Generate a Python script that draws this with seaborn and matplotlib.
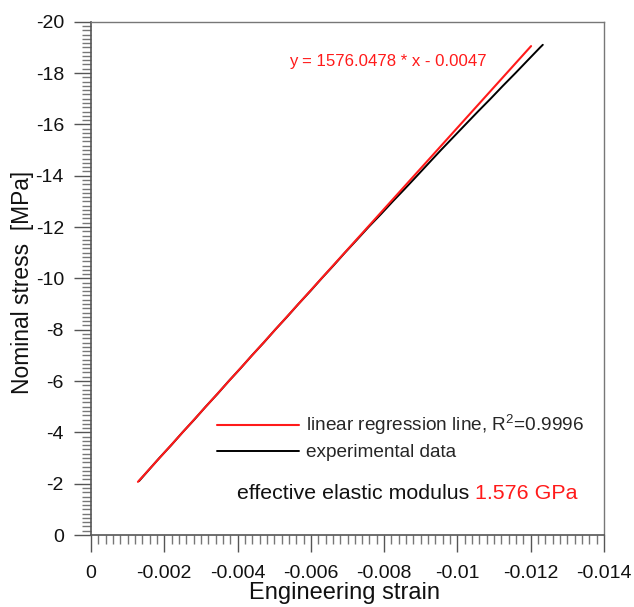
import matplotlib
matplotlib.use("Agg")
import matplotlib.pyplot as plt
import seaborn as sns
import numpy as np
import pandas as pd
from matplotlib.ticker import FixedLocator, FixedFormatter, MultipleLocator

# ---- data ----
reg_strain = [-0.00128, -0.01201]
reg_stress = [-2.07, -19.05]

exp_stress = [-2.1, -2.5, -3.0, -3.5, -4.0, -4.5, -5.0, -5.5, -6.0, -6.5,
              -7.0, -7.5, -8.0, -8.5, -9.0, -9.5, -10.0, -10.5, -11.0, -11.5,
              -12.0, -12.5, -13.0, -13.5, -14.0, -14.5, -15.0, -15.5, -16.0, -16.5,
              -17.0, -17.5, -18.0, -18.5, -19.0, -19.1]
exp_strain = [-0.001310, -0.001556, -0.001865, -0.002190, -0.002498, -0.002822,
              -0.003130, -0.003454, -0.003761, -0.004085, -0.004393, -0.004718,
              -0.005026, -0.005350, -0.005660, -0.005984, -0.006295, -0.006618,
              -0.006930, -0.007255, -0.007575, -0.007912, -0.008237, -0.008572,
              -0.008900, -0.009225, -0.009551, -0.009887, -0.010223, -0.010560,
              -0.010905, -0.011240, -0.011585, -0.011921, -0.012259, -0.012330]

x_ticks = [0, -0.002, -0.004, -0.006, -0.008, -0.010, -0.012, -0.014]
x_tick_labels = ["0", "-0.002", "-0.004", "-0.006", "-0.008", "-0.01", "-0.012", "-0.014"]
y_ticks = [0, -2, -4, -6, -8, -10, -12, -14, -16, -18, -20]
y_tick_labels = ["0", "-2", "-4", "-6", "-8", "-10", "-12", "-14", "-16", "-18", "-20"]

x_label = "Engineering strain"
y_label = "Nominal stress  [MPa]"
reg_label = "linear regression line, R$^{2}$=0.9996"
exp_label = "experimental data"
equation_text = "y = 1576.0478 * x - 0.0047"
modulus_text = "effective elastic modulus "
modulus_value = "1.576 GPa"

# ---- style ----
sns.set_theme(style="ticks")
plt.rcParams["font.family"] = ["Liberation Sans", "DejaVu Sans"]
plt.rcParams["mathtext.fontset"] = "custom"
plt.rcParams["mathtext.rm"] = "Liberation Sans"
plt.rcParams["mathtext.it"] = "Liberation Sans"
plt.rcParams["axes.unicode_minus"] = False

fig = plt.figure(figsize=(6.34, 6.07), dpi=100)
ax = fig.add_axes([91 / 634, 72 / 607, 513 / 634, 513.3 / 607])

exp_df = pd.DataFrame({"strain": exp_strain, "stress": exp_stress})
reg_df = pd.DataFrame({"strain": reg_strain, "stress": reg_stress})

sns.lineplot(data=exp_df, x="strain", y="stress", sort=False, color="black",
             lw=1.4, ax=ax, label=exp_label)
sns.lineplot(data=reg_df, x="strain", y="stress", sort=False, color="#ff1a1a",
             lw=1.5, ax=ax, label=reg_label)

ax.set_xlim(0, -0.014)
ax.set_ylim(0, -20)

ax.xaxis.set_major_locator(FixedLocator(x_ticks))
ax.xaxis.set_major_formatter(FixedFormatter(x_tick_labels))
ax.yaxis.set_major_locator(FixedLocator(y_ticks))
ax.yaxis.set_major_formatter(FixedFormatter(y_tick_labels))
ax.xaxis.set_minor_locator(MultipleLocator(0.0002))
ax.yaxis.set_minor_locator(MultipleLocator(2 / 12))

spine_c = "#555555"
for s in ["left", "bottom"]:
    ax.spines[s].set_color(spine_c)
    ax.spines[s].set_linewidth(1.2)
for s in ["top", "right"]:
    ax.spines[s].set_color("#777777")
    ax.spines[s].set_linewidth(1.0)
    ax.spines[s].set_visible(True)

ax.tick_params(axis="both", which="major", direction="out", length=12.5, width=1.0,
               color=spine_c, labelsize=14, labelcolor="#111111")
ax.tick_params(axis="both", which="minor", direction="out", length=6.5, width=1.0,
               color="#777777")
ax.tick_params(axis="y", which="major", pad=7)
ax.tick_params(axis="x", which="major", pad=9)

ax.set_xlabel(x_label, fontsize=17, color="#111111")
ax.set_ylabel(y_label, fontsize=16.4, color="#111111")
ax.xaxis.set_label_coords(0.494, -0.0925)
ax.yaxis.set_label_coords(-0.112, 0.492)

handles, labels = ax.get_legend_handles_labels()
ax.legend(handles[::-1], labels[::-1], loc="upper left",
          bbox_to_anchor=(0.245, 0.237), frameon=False, fontsize=13.7,
          handlelength=4.3, handletextpad=0.42, labelspacing=0.35,
          borderpad=0, borderaxespad=0)

ax.text(0.386, 0.923, equation_text, transform=ax.transAxes, color="#ff1a1a",
        fontsize=12.1, ha="left", va="center")

t1 = ax.text(0.284, 0.08, modulus_text, transform=ax.transAxes, color="#111111",
             fontsize=15.4, ha="left", va="center")
ax.annotate(modulus_value, xy=(1, 0), xycoords=t1, color="#ff1a1a",
            fontsize=15.4, ha="left", va="bottom")

fig.savefig("out.png", dpi=100)
